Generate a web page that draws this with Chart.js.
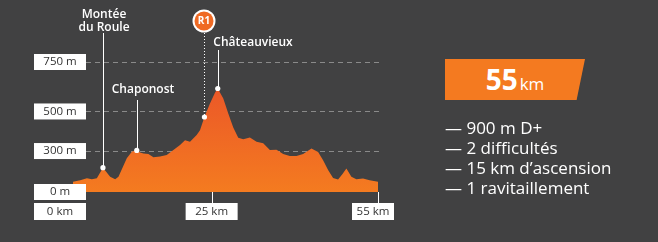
<!DOCTYPE html>
<html>
<head>
<meta charset="utf-8">
<script src="https://cdn.jsdelivr.net/npm/chart.js@4"></script>
<style>
  html, body { margin: 0; padding: 0; }
  body { width: 658px; height: 242px; background: #414142; position: relative; overflow: hidden; font-family: "Open Sans", sans-serif; }
  #profile { position: absolute; left: 0; top: 0; }
  .banner { position: absolute; left: 445px; top: 59px; width: 140px; height: 41px; background: #f47a20;
            clip-path: polygon(0 0, 100% 0, 94% 100%, 0 100%); color: #fff; text-align: center; line-height: 41px; }
  .banner b { font-size: 28px; font-weight: 700; }
  .banner span { font-size: 17px; margin-left: 2px; }
  .facts { position: absolute; left: 445px; top: 118px; color: #fff; font-size: 17px; line-height: 20px; margin: 0; padding: 0; list-style: none; }
</style>
</head>
<body>
<canvas id="profile" width="658" height="242"></canvas>
<div class="banner"><b id="distVal"></b><span>km</span></div>
<ul class="facts" id="facts"></ul>
<script>
const distanceKm = [0, 1.3, 2.5, 3.4, 4.3, 5.4, 6.7, 7.6, 8.2, 9.7, 10.6, 11.5, 12.1, 12.7, 13.6, 14.5, 15.7, 16.9, 18.1, 18.7, 19.3, 20.2, 21.1, 22.3, 22.9, 23.7, 24.7, 25.6, 26.1, 27.1, 28, 28.9, 29.8, 30.7, 31.9, 33.1, 34.3, 35.5, 36.7, 37.9, 39.1, 40.3, 41.5, 43, 44.2, 45.1, 46, 46.9, 47.8, 48.6, 49.3, 50.2, 51.1, 52.3, 53.5, 55];
const elevationM = [145, 153, 162, 158, 162, 216, 170, 157, 170, 263, 296, 305, 292, 288, 285, 269, 272, 280, 305, 318, 331, 355, 347, 381, 405, 472, 540, 595, 616, 565, 490, 419, 367, 359, 369, 347, 339, 305, 307, 285, 275, 275, 285, 313, 295, 254, 204, 164, 156, 184, 212, 170, 158, 161, 153, 145];

const yTickValues = [0, 300, 500, 750];
const yTickLabels = ['0 m', '300 m', '500 m', '750 m'];
const xTickValues = [0, 25, 55];
const xTickLabels = ['0 km', '25 km', '55 km'];

const markerKm = [5.4, 11.5, 23.7, 26.1];
const markerElev = [216, 303, 472, 616];
const markerNames = [['Montée', 'du Roule'], ['Chaponost'], ['R1'], ['Châteauvieux']];

const totalKm = 55;
const facts = ['900 m D+', '2 difficultés', '15 km d’ascension', '1 ravitaillement'];

document.getElementById('distVal').textContent = totalKm;
document.getElementById('facts').innerHTML = facts.map(f => '<li>— ' + f + '</li>').join('');

// placement of the callout texts (text centre x, text top y, line start y)
const calloutLayout = [
  { tx: 104, ty: 9, ly: 33 },
  { tx: 143, ty: 84, ly: 100 },
  { tx: 204, ty: 21, ly: 33, badge: true },
  { tx: 253, ty: 37, ly: 50 }
];

const profileDecor = {
  id: 'profileDecor',
  beforeDatasetsDraw(chart) {
    const { ctx, scales: { y } } = chart;
    ctx.save();
    ctx.strokeStyle = 'rgba(170,170,170,0.7)';
    ctx.lineWidth = 1;
    ctx.setLineDash([5, 4]);
    yTickValues.forEach(v => {
      if (v <= y.min) return;
      const py = Math.round(y.getPixelForValue(v)) + 0.5;
      ctx.beginPath();
      ctx.moveTo(86, py);
      ctx.lineTo(381, py);
      ctx.stroke();
    });
    ctx.restore();
  },
  afterDatasetsDraw(chart) {
    const { ctx, scales: { x, y }, chartArea } = chart;
    ctx.save();
    ctx.font = '11.5px "Open Sans", sans-serif';
    ctx.textAlign = 'center';
    ctx.textBaseline = 'middle';

    // y labels in white boxes
    yTickValues.forEach((v, i) => {
      const py = y.getPixelForValue(Math.max(v, y.min));
      ctx.fillStyle = '#ffffff';
      ctx.fillRect(34, py - 8, 52, 16);
      ctx.fillStyle = '#333333';
      ctx.fillText(yTickLabels[i], 60, py);
    });

    // x ticks and labels
    xTickValues.forEach((v, i) => {
      const px = x.getPixelForValue(v);
      let left = v === 0 ? 34 : px - 26;
      let right = Math.min(left + 52, 394);
      if (v !== 0) {
        ctx.strokeStyle = '#ffffff';
        ctx.lineWidth = 1;
        ctx.beginPath();
        ctx.moveTo(Math.round(px) + 0.5, chartArea.bottom);
        ctx.lineTo(Math.round(px) + 0.5, 203);
        ctx.stroke();
      }
      ctx.fillStyle = '#ffffff';
      ctx.fillRect(left, 203, right - left, 17);
      ctx.fillStyle = '#333333';
      ctx.fillText(xTickLabels[i], (left + right) / 2, 211.5);
    });

    // callouts
    markerKm.forEach((km, i) => {
      const px = x.getPixelForValue(km);
      const py = y.getPixelForValue(markerElev[i]);
      const lay = calloutLayout[i];
      ctx.strokeStyle = '#ffffff';
      ctx.lineWidth = 1;
      ctx.setLineDash(lay.badge ? [1, 2] : []);
      ctx.beginPath();
      ctx.moveTo(Math.round(px) + 0.5, lay.ly);
      ctx.lineTo(Math.round(px) + 0.5, py);
      ctx.stroke();
      ctx.setLineDash([]);
      ctx.fillStyle = '#ffffff';
      ctx.beginPath();
      ctx.arc(px, py, 2.6, 0, Math.PI * 2);
      ctx.fill();

      if (lay.badge) {
        ctx.beginPath();
        ctx.arc(lay.tx, lay.ty, 11.5, 0, Math.PI * 2);
        ctx.fillStyle = '#ffffff';
        ctx.fill();
        ctx.beginPath();
        ctx.arc(lay.tx, lay.ty, 9.5, 0, Math.PI * 2);
        ctx.fillStyle = '#ef6a24';
        ctx.fill();
        ctx.fillStyle = '#ffffff';
        ctx.font = 'bold 10px "Open Sans", sans-serif';
        ctx.textBaseline = 'middle';
        ctx.fillText(markerNames[i][0], lay.tx, lay.ty + 0.5);
      } else {
        ctx.fillStyle = '#ffffff';
        ctx.font = '600 12px "Open Sans", sans-serif';
        ctx.textBaseline = 'top';
        markerNames[i].forEach((line, j) => ctx.fillText(line, lay.tx, lay.ty + j * 12.5));
      }
    });
    ctx.restore();
  }
};

new Chart(document.getElementById('profile'), {
  type: 'line',
  data: {
    datasets: [{
      data: distanceKm.map((d, i) => ({ x: d, y: elevationM[i] })),
      fill: 'start',
      borderWidth: 0,
      pointRadius: 0,
      tension: 0,
      backgroundColor(context) {
        const { ctx, chartArea } = context.chart;
        if (!chartArea) return '#f26c22';
        const g = ctx.createLinearGradient(0, chartArea.top, 0, chartArea.bottom);
        g.addColorStop(0, '#e94f2a');
        g.addColorStop(1, '#f47b20');
        return g;
      }
    }]
  },
  options: {
    responsive: false,
    devicePixelRatio: 1,
    animation: false,
    layout: { padding: { left: 73, right: 280, top: 62, bottom: 50 } },
    scales: {
      x: { type: 'linear', min: 0, max: 55, display: false },
      y: { min: 93, max: 750, display: false }
    },
    plugins: { legend: { display: false }, tooltip: { enabled: false } }
  },
  plugins: [profileDecor]
});
</script>
</body>
</html>
